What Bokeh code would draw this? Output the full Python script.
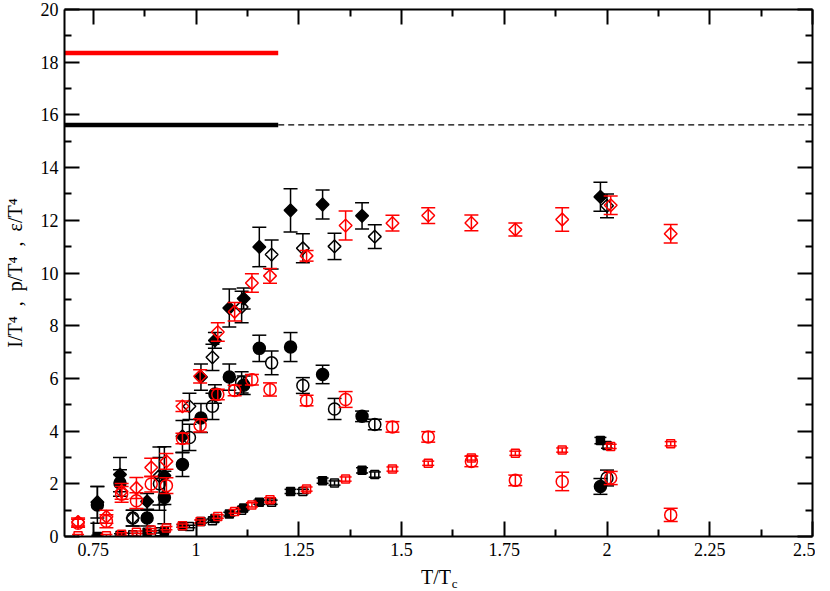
import numpy as np
from bokeh.plotting import figure
from bokeh.models import Range1d, LinearAxis, FixedTicker
from bokeh.embed import file_html
from bokeh.resources import INLINE

# ---------------- data ----------------
# Set A : black filled symbols (diamond = e/T^4, circle = I/T^4, square = p/T^4)
tA = [0.760, 0.815, 0.881, 0.923, 0.967, 1.012, 1.046, 1.081, 1.116, 1.154, 1.230, 1.308, 1.404, 1.984]
eA = [1.30, 2.35, 1.33, 2.31, 3.80, 6.05, 7.44, 8.67, 9.03, 10.99, 12.38, 12.60, 12.17, 12.89]
eA_err = [0.60, 0.65, 0.30, 1.10, 0.60, 0.50, 0.30, 0.72, 0.40, 0.75, 0.82, 0.55, 0.50, 0.55]
iA = [1.20, 2.03, 0.70, 1.48, 2.73, 4.50, 5.41, 6.05, 5.74, 7.14, 7.19, 6.15, 4.56, 1.90]
iA_err = [0.70, 0.50, 0.30, 1.00, 0.45, 0.55, 0.35, 0.50, 0.35, 0.50, 0.55, 0.35, 0.20, 0.30]
pA = [0.00, 0.05, 0.16, 0.20, 0.40, 0.57, 0.68, 0.85, 1.08, 1.30, 1.71, 2.12, 2.51, 3.64]
pA_err = [0.05, 0.05, 0.05, 0.05, 0.05, 0.06, 0.06, 0.07, 0.07, 0.08, 0.08, 0.10, 0.10, 0.12]

# Set B : black open symbols
tB = [0.846, 0.911, 0.984, 1.040, 1.111, 1.184, 1.260, 1.337, 1.435, 2.000]
eB = [0.70, 2.30, 4.94, 6.80, 8.71, 10.70, 10.94, 11.01, 11.38, 12.55]
eB_err = [0.30, 1.10, 0.50, 0.50, 0.60, 0.55, 0.55, 0.50, 0.45, 0.45]
iB = [0.70, 2.00, 3.76, 4.94, 5.85, 6.59, 5.73, 4.84, 4.25, 2.22]
iB_err = [0.30, 1.00, 0.50, 0.50, 0.40, 0.45, 0.30, 0.40, 0.20, 0.30]
pB = [0.07, 0.18, 0.38, 0.60, 1.00, 1.30, 1.71, 2.03, 2.35, 3.45]
pB_err = [0.05, 0.05, 0.05, 0.06, 0.07, 0.08, 0.08, 0.08, 0.10, 0.10]

# Set C : red open symbols
tC = [0.713, 0.782, 0.819, 0.855, 0.891, 0.928, 0.967, 1.010, 1.053, 1.094, 1.136,
      1.180, 1.269, 1.364, 1.478, 1.565, 1.670, 1.777, 1.891, 2.009, 2.155]
eC = [0.55, 0.75, 1.71, 1.84, 2.62, 2.85, 4.94, 6.08, 7.76, 8.53, 9.62,
      9.89, 10.65, 11.80, 11.89, 12.18, 11.90, 11.65, 12.03, 12.57, 11.49]
eC_err = [0.15, 0.25, 0.30, 0.40, 0.35, 0.30, 0.20, 0.25, 0.35, 0.35, 0.35,
          0.28, 0.20, 0.55, 0.30, 0.30, 0.30, 0.25, 0.45, 0.35, 0.35]
iC = [0.50, 0.58, 1.60, 1.36, 1.99, 1.93, 3.72, 4.22, 5.39, 5.54, 5.95,
      5.58, 5.16, 5.20, 4.16, 3.78, 2.85, 2.13, 2.09, 2.22, 0.82]
iC_err = [0.15, 0.25, 0.30, 0.30, 0.30, 0.30, 0.20, 0.25, 0.20, 0.20, 0.20,
          0.25, 0.20, 0.30, 0.20, 0.20, 0.20, 0.20, 0.35, 0.25, 0.25]
pC = [0.03, 0.03, 0.09, 0.16, 0.25, 0.32, 0.41, 0.57, 0.76, 0.95, 1.20,
      1.39, 1.80, 2.18, 2.56, 2.78, 2.98, 3.16, 3.28, 3.42, 3.52]
pC_err = [0.05, 0.05, 0.05, 0.05, 0.05, 0.06, 0.06, 0.06, 0.07, 0.07, 0.08,
          0.08, 0.08, 0.08, 0.08, 0.08, 0.08, 0.08, 0.08, 0.08, 0.08]

# Stefan-Boltzmann limits
sb_x_thick = [0.68, 1.20]
sb_x_dash = [1.20, 2.50]
sb_red = 18.35
sb_black = 15.62

# axes
x_range = (0.68, 2.5)
y_range = (0, 20)
x_major = [0.75, 1.0, 1.25, 1.5, 1.75, 2.0, 2.25, 2.5]
x_major_labels = ["0.75", "1", "1.25", "1.5", "1.75", "2", "2.25", "2.5"]
x_minor = [0.875, 1.125, 1.375, 1.625, 1.875, 2.125, 2.375]
y_major = [0, 2, 4, 6, 8, 10, 12, 14, 16, 18, 20]
y_major_labels = [str(v) for v in y_major]
y_minor = [1, 3, 5, 7, 9, 11, 13, 15, 17, 19]
NB = "\u00a0"
x_title = "T/T" + NB
x_title_sub = "c"
y_title = "I/T\u2074" + NB + " ," + NB + " p/T\u2074" + NB + " ," + NB + " \u03b5/T\u2074"

FONT = "Liberation Serif"
RED = "#ff0000"
BLACK = "#000000"

p = figure(width=815, height=593, x_range=Range1d(*x_range), y_range=Range1d(*y_range),
           output_backend="svg", toolbar_location=None,
           min_border_left=61, min_border_right=3, min_border_top=9, min_border_bottom=50)
p.margin = (0, 0, -12, 0)
p.grid.visible = False
p.outline_line_color = None
p.background_fill_color = "white"
p.border_fill_color = "white"

def style_axis(ax, ticks, minor, labels, show):
    ax.ticker = FixedTicker(ticks=ticks, minor_ticks=minor)
    ax.major_tick_in = 15
    ax.major_tick_out = 0
    ax.minor_tick_in = 7
    ax.minor_tick_out = 0
    ax.axis_line_width = 2
    ax.major_tick_line_width = 2
    ax.minor_tick_line_width = 2
    ax.axis_line_color = BLACK
    ax.major_tick_line_color = BLACK
    ax.minor_tick_line_color = BLACK
    ax.major_label_text_font = FONT
    ax.major_label_text_color = BLACK
    ax.axis_label_text_font = FONT
    ax.axis_label_text_font_style = "normal"
    ax.axis_label_text_color = BLACK
    if show:
        ax.major_label_text_font_size = "18px"
        ax.major_label_overrides = {t: l for t, l in zip(ticks, labels)}
    else:
        ax.major_label_text_font_size = "0px"
        ax.major_label_overrides = {t: "" for t in ticks}
        ax.major_label_standoff = 0

xa = p.xaxis[0]
style_axis(xa, x_major, x_minor, x_major_labels, True)
xa.major_label_standoff = 6
xa.axis_label = x_title
xa.axis_label_text_font_size = "20px"
xa.axis_label_standoff = 7

ya = p.yaxis[0]
style_axis(ya, y_major, y_minor, y_major_labels, True)
ya.major_label_standoff = 6
ya.axis_label = y_title
ya.axis_label_text_font_size = "20px"
ya.axis_label_standoff = 12

top_ax = LinearAxis()
style_axis(top_ax, x_major, x_minor, x_major_labels, False)
p.add_layout(top_ax, "above")
right_ax = LinearAxis()
style_axis(right_ax, y_major, y_minor, y_major_labels, False)
p.add_layout(right_ax, "right")

# second (invisible) bottom axis only carries the subscript of the x title
sub_ax = LinearAxis(ticker=FixedTicker(ticks=[]), axis_line_color=None,
                    major_tick_line_color=None, minor_tick_line_color=None,
                    major_label_standoff=0, axis_label=NB * 10 + x_title_sub,
                    axis_label_text_font=FONT, axis_label_text_font_size="13px",
                    axis_label_text_font_style="normal", axis_label_text_color=BLACK,
                    axis_label_standoff=-15)
p.add_layout(sub_ax, "below")

# reference lines
p.line(sb_x_dash, [sb_black, sb_black], line_color=BLACK, line_width=1.2, line_dash="6 4")
p.line(sb_x_thick, [sb_black, sb_black], line_color=BLACK, line_width=4.5)
p.line(sb_x_thick, [sb_red, sb_red], line_color=RED, line_width=4.5)

def errbars(t, v, err, color, cap):
    t = np.asarray(t); v = np.asarray(v); err = np.asarray(err)
    up = v + err
    lo = v - err
    p.segment(t, lo, t, up, line_color=color, line_width=1.5)
    p.scatter(t, up, marker="dash", size=cap, line_color=color, line_width=1.5)
    p.scatter(t, lo, marker="dash", size=cap, line_color=color, line_width=1.5)

def series(t, e, e_err, i, i_err, pr, pr_err, color, filled):
    fill = color if filled else None
    errbars(t, pr, pr_err, color, 12)
    p.scatter(t, pr, marker="square", size=8, line_color=color, fill_color=fill, line_width=1.5)
    errbars(t, i, i_err, color, 14)
    p.scatter(t, i, marker="circle", size=12, line_color=color, fill_color=fill, line_width=1.5)
    errbars(t, e, e_err, color, 14)
    p.scatter(t, e, marker="square", angle=np.pi / 4, size=9, line_color=color,
              fill_color=fill, line_width=1.5)

series(tA, eA, eA_err, iA, iA_err, pA, pA_err, BLACK, True)
series(tB, eB, eB_err, iB, iB_err, pB, pB_err, BLACK, False)
series(tC, eC, eC_err, iC, iC_err, pC, pC_err, RED, False)

open("out.html", "w").write(file_html(p, INLINE))
